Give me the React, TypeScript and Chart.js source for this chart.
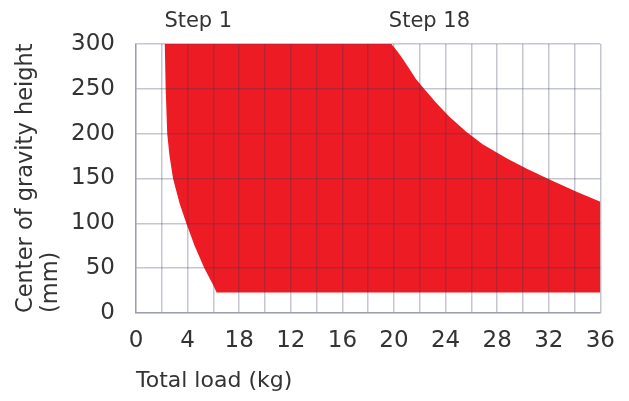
import React, { useEffect, useRef } from "react";
import { Chart, registerables } from "chart.js";

Chart.register(...registerables);

// Permissible region boundary (Total load kg, Center of gravity height mm)
const topEdgeLoad = [2.23, 19.8];
const topEdgeHeight = [300, 300];
const upperCurveLoad = [20.3, 20.7, 21.2, 21.7, 22.4, 23.3, 24.3, 25.6, 26.9, 28.8, 30.3, 32.1, 34.2, 36];
const upperCurveHeight = [291, 283, 272, 261, 249, 234, 219, 202, 188, 172, 161, 148.5, 135, 124];
const bottomEdgeLoad = [36, 6.25];
const bottomEdgeHeight = [23, 23];
const leftCurveLoad = [5.95, 5.3, 4.54, 3.9, 3.38, 2.87, 2.6, 2.42, 2.3, 2.23];
const leftCurveHeight = [32, 50, 75, 100, 122, 150, 175, 200, 250, 300];

const xTickValues = [0, 4, 8, 12, 16, 20, 24, 28, 32, 36];
const xTickLabels = ["0", "4", "18", "12", "16", "20", "24", "28", "32", "36"];

const stepLabels = ["Step 1", "Step 18"];
const stepLabelLoads = [2.2, 19.6];

const FONT = "'DejaVu Sans', 'Open Sans', sans-serif";
const TEXT = "#333333";
const GRID = "rgba(45,55,85,0.28)";

function buildPolygon() {
  const pts: { x: number; y: number }[] = [];
  const add = (xs: number[], ys: number[]) => xs.forEach((x, i) => pts.push({ x, y: ys[i] }));
  add(topEdgeLoad, topEdgeHeight);
  add(upperCurveLoad, upperCurveHeight);
  add(bottomEdgeLoad, bottomEdgeHeight);
  add(leftCurveLoad, leftCurveHeight);
  return pts;
}

const stepLabelPlugin = {
  id: "stepLabels",
  afterDraw(chart: any) {
    const { ctx, chartArea, scales } = chart;
    ctx.save();
    ctx.font = `21px ${FONT}`;
    ctx.fillStyle = TEXT;
    ctx.textAlign = "left";
    ctx.textBaseline = "middle";
    stepLabels.forEach((t, i) => {
      const x = scales.x.getPixelForValue(stepLabelLoads[i]);
      ctx.fillText(t, x, chartArea.top - 22);
    });
    ctx.restore();
  },
};

export default function App() {
  const ref = useRef<HTMLCanvasElement>(null);
  useEffect(() => {
    document.body.style.margin = "0";
    if (!ref.current) return;
    const chart = new Chart(ref.current, {
      type: "line",
      data: {
        datasets: [
          {
            data: buildPolygon(),
            backgroundColor: "rgb(237,28,36)",
            borderWidth: 0,
            borderColor: "rgba(0,0,0,0)",
            pointRadius: 0,
            tension: 0,
            fill: "shape",
          } as any,
        ],
      },
      options: {
        animation: false,
        responsive: true,
        maintainAspectRatio: false,
        layout: { padding: { top: 44, right: 24, bottom: 7, left: 14 } },
        plugins: { legend: { display: false }, tooltip: { enabled: false } },
        scales: {
          x: {
            type: "linear",
            min: 0,
            max: 36,
            z: 1,
            grid: { color: GRID, lineWidth: 1.5, drawTicks: false, z: 1 } as any,
            border: { color: GRID, width: 1.5, z: 1 } as any,
            afterFit: (s: any) => {
              s.height = 81;
            },
            ticks: {
              stepSize: 2,
              autoSkip: false,
              maxRotation: 0,
              padding: 14,
              color: TEXT,
              font: { family: FONT, size: 23 },
              callback: (v: any) => {
                const i = xTickValues.indexOf(Number(v));
                return i >= 0 ? xTickLabels[i] : "";
              },
            },
            title: {
              display: true,
              text: "Total load (kg)",
              align: "start",
              color: TEXT,
              font: { family: FONT, size: 22 },
              padding: { top: 0, bottom: 0 },
            },
          },
          y: {
            type: "linear",
            min: 0,
            max: 300,
            z: 1,
            grid: { color: GRID, lineWidth: 1.5, drawTicks: false, z: 1 } as any,
            border: { color: GRID, width: 1.5, z: 1 } as any,
            afterFit: (s: any) => {
              s.width = 122;
            },
            ticks: {
              stepSize: 50,
              padding: 21,
              color: TEXT,
              font: { family: FONT, size: 23 },
            },
            title: {
              display: true,
              text: ["Center of gravity height", "(mm)"],
              align: "start",
              color: TEXT,
              font: { family: FONT, size: 22.5, lineHeight: 1.1 },
              padding: { top: 0, bottom: 0 },
            },
          },
        },
      },
      plugins: [stepLabelPlugin],
    });
    return () => chart.destroy();
  }, []);
  return (
    <div style={{ width: 629, height: 401, position: "relative" }}>
      <canvas ref={ref} />
    </div>
  );
}
